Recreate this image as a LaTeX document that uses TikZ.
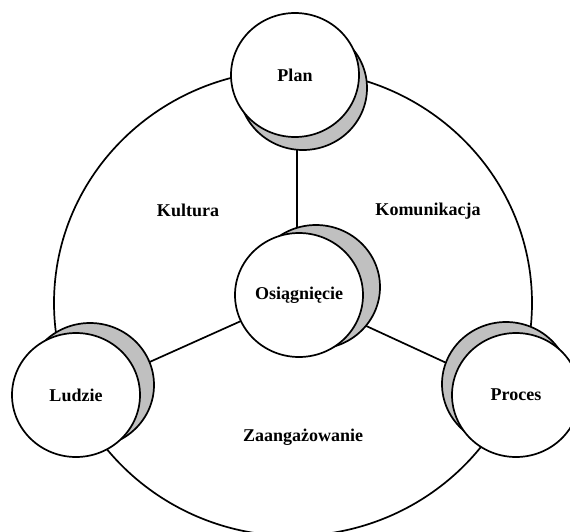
\documentclass[tikz,border=0pt]{standalone}
\usepackage{fontspec}
\setmainfont{Liberation Serif}
\usetikzlibrary{shapes.geometric,backgrounds}
\tikzset{
  ln/.style={line width=1.7pt},
  bub/.style={ellipse, draw, line width=1.7pt, fill=white, minimum width=128pt, minimum height=124pt, inner sep=0pt},
  shad/.style={bub, fill=shadgray},
  lbl/.style={font=\bfseries\fontsize{18}{20}\selectfont, inner sep=0pt}
}
\definecolor{shadgray}{HTML}{C0C0C0}
\begin{document}
\begin{tikzpicture}[x=1pt,y=-1pt]
\useasboundingbox (0,0) rectangle (570,531);
% shadows
\node[shad] (planS) at (303,88) {};
\node[shad] (osiS) at (316,287) {};
\node[shad] (ludS) at (90,385) {};
\node[shad] (proS) at (506,384) {};
% main circles
\node[bub,lbl] (plan) at (295,75) {Plan};
\node[bub,lbl] (osi) at (299,295) {Osiągnięcie};
\node[bub,lbl] (lud) at (76,395) {Ludzie};
\node[bub,lbl] (pro) at (516,395) {Proces};
% labels
\node[lbl] (kul) at (188,210) {Kultura};
\node[lbl] (kom) at (428,211) {Komunikacja};
\node[lbl] (zaa) at (303,437) {Zaangażowanie};
\begin{scope}[on background layer]
  \coordinate (bigC) at (293,303);
  \coordinate (vtop) at (297,75);
  \coordinate (vbot) at (297,295);
  \draw[ln] (bigC) ellipse [x radius=239, y radius=233];
  \draw[ln] (vtop) -- (vbot);
  \draw[ln] (osi.center) -- (lud.center);
  \draw[ln] (osi.center) -- (pro.center);
\end{scope}
\end{tikzpicture}
\end{document}
